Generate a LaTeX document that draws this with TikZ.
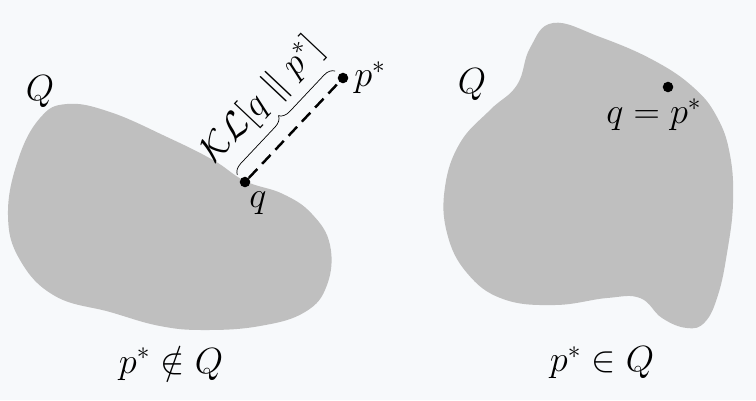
\documentclass[tikz,border=0pt]{standalone}
\usepackage{amsmath,amssymb}
\usepackage{xcolor}
\usepackage{tikz}
\usetikzlibrary{calc,positioning,decorations.pathreplacing}
\definecolor{setgray}{RGB}{191,191,191}
\definecolor{paper}{RGB}{247,249,251}

\begin{document}
\begin{tikzpicture}[x=0.02cm,y=-0.02cm,
  dot/.style={circle,fill=black,inner sep=0pt,minimum size=6pt},
  lbl/.style={inner sep=0pt,font=\fontsize{20}{24}\selectfont}]
\useasboundingbox[fill=paper] (0,0) rectangle (756,400);
%%% Left set, p* outside Q:
\fill[setgray] plot[smooth cycle,tension=0.7] coordinates {(67,104) (110,112) (167,137) (213,160) (245,181) (283,194) (312,214) (330,245) (327,285) (305,312) (260,326) (205,330) (160,326) (110,312) (55,296) (20,260) (8,215) (18,160) (40,118)};
\node[dot] (q) at (245,182) {};
\node[dot] (pstar) at (343,78) {};
\node[lbl,right=3pt of pstar] (pstarlbl) {$p^*$};
\node[lbl,below right=3pt and 0pt of q] (qlbl) {$q$};
\node[lbl] (Qleft) at (40,92) {$Q$};
%% distance and brace
\draw[line width=1.4pt,dash pattern=on 7pt off 4pt] (q) -- (pstar);
\draw[decorate,decoration={brace,amplitude=6pt}] ($(q)!6pt!90:(pstar)$) -- ($(pstar)!6pt!-90:(q)$);
\path (q) -- node[lbl,midway,sloped,above=14pt] (kl) {$\mathcal{KL}[q\parallel p^*]$} (pstar);
\node[lbl] (outside) at (171,363) {$p^*\notin Q$};
%%% Right set, p* inside Q:
\fill[setgray] plot[smooth cycle,tension=0.7] coordinates {(553,23) (600,37) (653,60) (693,87) (717,117) (730,155) (733,203) (727,253) (718,295) (705,322) (687,328) (662,318) (640,298) (607,298) (555,305) (503,299) (467,273) (447,233) (445,187) (460,143) (490,110) (517,85) (530,48)};
\node[dot] (qp) at (668,87) {};
\node[lbl,below=3pt of qp,xshift=-8pt] (qplbl) {$q=p^*$};
\node[lbl] (Qright) at (472,85) {$Q$};
\node[lbl] (inside) at (602,363) {$p^*\in Q$};
\end{tikzpicture}
\end{document}
